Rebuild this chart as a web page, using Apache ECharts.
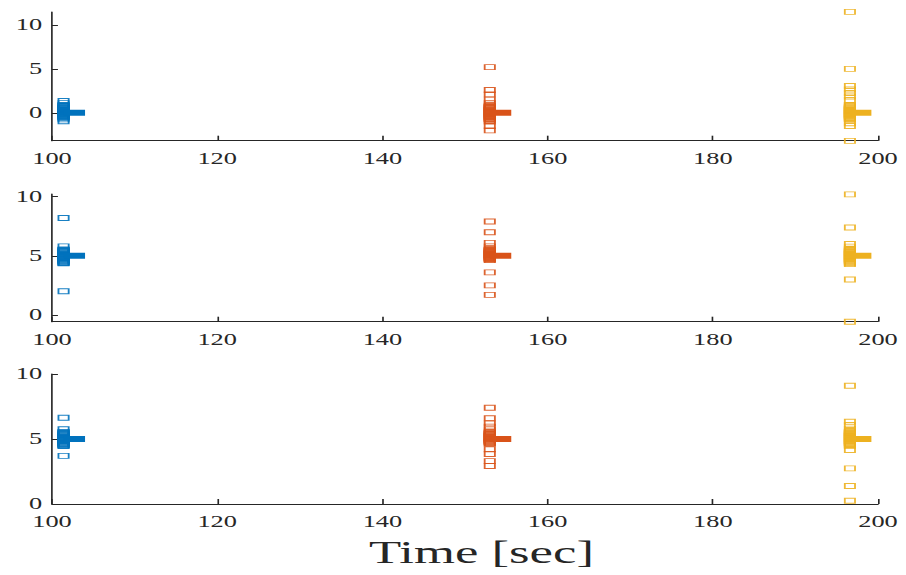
<!DOCTYPE html>
<html>
<head>
<meta charset="utf-8">
<script src="https://cdn.jsdelivr.net/npm/echarts@6/dist/echarts.min.js"></script>
<style>
  html, body { margin: 0; padding: 0; background: #fff; overflow: hidden; }
  #wrap { width: 906px; height: 575px; overflow: hidden; }
  /* the figure is drawn narrow and widened horizontally */
  #chart { width: 550px; height: 575px; transform: scaleX(1.64727); transform-origin: 0 0; }
</style>
</head>
<body>
<div id="wrap"><div id="chart"></div></div>
<script>
// time (sec) at which each run's samples were recorded
const groupX = [101.4, 153.0, 196.6];
const seriesColors = ['#0072BD', '#D95319', '#EDB120'];
const meanBarLength = 2.6;

// panel 1
const topBlue = [1.35, 1.1, 0.88, 0.8, 0.74, 0.68, 0.63, 0.56, 0.5, 0.45, 0.41, 0.35, 0.3, 0.26, 0.22, 0.17, 0.12, 0.08, 0.04, -0.01, -0.05, -0.1, -0.14, -0.19, -0.24, -0.28, -0.33, -0.39, -0.45, -0.51, -0.58, -0.75, -0.97];
const topOrange = [5.2, 2.6, 2.1, 1.5, 1.1, 0.85, 0.79, 0.72, 0.66, 0.6, 0.53, 0.47, 0.42, 0.36, 0.3, 0.24, 0.18, 0.13, 0.07, 0.02, -0.03, -0.08, -0.13, -0.19, -0.24, -0.3, -0.36, -0.42, -0.48, -0.55, -0.62, -0.7, -0.78, -0.86, -1.0, -1.5, -2.0];
const topYellow = [11.5, 5.0, 3.05, 2.65, 2.25, 1.85, 1.45, 0.9, 0.83, 0.76, 0.7, 0.63, 0.56, 0.5, 0.44, 0.38, 0.32, 0.27, 0.21, 0.15, 0.1, 0.05, -0.01, -0.06, -0.11, -0.17, -0.22, -0.28, -0.34, -0.4, -0.46, -0.52, -0.58, -0.65, -0.72, -0.8, -1.2, -1.5, -3.2];
const topMeans = [0, 0, 0];

// panel 2
const midBlue = [8.2, 5.8, 5.55, 5.5, 5.45, 5.41, 5.36, 5.31, 5.27, 5.22, 5.18, 5.14, 5.1, 5.06, 5.02, 4.98, 4.94, 4.9, 4.85, 4.81, 4.76, 4.71, 4.66, 4.61, 4.55, 4.5, 4.45, 4.4, 4.36, 2.0];
const midOrange = [7.9, 7.0, 6.1, 5.8, 5.6, 5.55, 5.5, 5.45, 5.41, 5.36, 5.32, 5.28, 5.24, 5.19, 5.15, 5.11, 5.07, 5.03, 4.99, 4.94, 4.9, 4.86, 4.82, 4.77, 4.73, 4.68, 4.64, 3.6, 2.5, 1.7];
const midYellow = [10.2, 7.4, 6.0, 5.78, 5.6, 5.55, 5.5, 5.45, 5.4, 5.35, 5.31, 5.26, 5.22, 5.17, 5.13, 5.08, 5.04, 4.99, 4.95, 4.9, 4.86, 4.81, 4.76, 4.71, 4.66, 4.6, 4.55, 4.5, 4.44, 4.37, 4.3, 3.0, -0.57];
const midMeans = [5, 5, 5];

// panel 3
const botBlue = [6.64, 5.75, 5.55, 5.5, 5.46, 5.41, 5.37, 5.32, 5.28, 5.24, 5.2, 5.16, 5.12, 5.08, 5.04, 5.0, 4.96, 4.92, 4.88, 4.84, 4.8, 4.75, 4.71, 4.66, 4.62, 4.57, 4.53, 4.49, 4.46, 3.7];
const botOrange = [7.4, 6.6, 6.2, 5.95, 5.74, 5.56, 5.51, 5.47, 5.42, 5.38, 5.34, 5.3, 5.26, 5.22, 5.17, 5.13, 5.09, 5.05, 5.01, 4.97, 4.93, 4.89, 4.84, 4.8, 4.76, 4.72, 4.67, 4.63, 4.2, 3.85, 3.3, 2.92];
const botYellow = [9.1, 6.33, 6.08, 5.8, 5.62, 5.57, 5.53, 5.48, 5.44, 5.4, 5.36, 5.31, 5.27, 5.22, 5.18, 5.14, 5.1, 5.06, 5.02, 4.97, 4.93, 4.88, 4.84, 4.8, 4.75, 4.71, 4.66, 4.62, 4.57, 4.51, 4.45, 4.15, 2.74, 1.38, 0.25];
const botMeans = [5, 5, 5];

// axis ranges and ticks
const xRange = [100, 200];
const xStep = 20;
const yRanges = [[-3.18, 11.48], [-0.57, 10.23], [0, 10]];
const yTicks = [0, 5, 10];
const xTitle = 'Time [sec]';

const panels = [
  { groups: [topBlue, topOrange, topYellow], means: topMeans },
  { groups: [midBlue, midOrange, midYellow], means: midMeans },
  { groups: [botBlue, botOrange, botYellow], means: botMeans }
];

const FONT = 'Liberation Serif';
const INK = '#262626';
const gridBoxes = [
  { top: 12, height: 128.7 },
  { top: 194, height: 127.7 },
  { top: 374, height: 130 }
];

const grid = gridBoxes.map(b => ({ left: 31.57, right: 17, top: b.top, height: b.height }));

const xAxis = gridBoxes.map((b, i) => ({
  type: 'value', gridIndex: i, min: xRange[0], max: xRange[1], interval: xStep,
  axisLine: { onZero: false, lineStyle: { color: INK, width: 1 } },
  axisTick: { inside: true, length: 5, lineStyle: { color: INK } },
  axisLabel: { margin: 10, fontFamily: FONT, fontSize: 16, color: INK },
  splitLine: { show: false },
  name: i === 2 ? xTitle : '',
  nameLocation: 'middle',
  nameGap: 32,
  nameTextStyle: { fontFamily: FONT, fontSize: 32, color: INK, padding: [0, 0, 0, 20] }
}));

const yAxis = yRanges.map((r, i) => ({
  type: 'value', gridIndex: i, min: r[0], max: r[1],
  axisLine: { show: true, onZero: false, lineStyle: { color: INK, width: 1 } },
  axisTick: { show: true, inside: true, length: 3.6, customValues: yTicks, lineStyle: { color: INK } },
  axisLabel: { margin: 6, fontFamily: FONT, fontSize: 16, color: INK, customValues: yTicks },
  splitLine: { show: false }
}));

const series = [];
panels.forEach((p, pi) => {
  p.groups.forEach((vals, gi) => {
    series.push({
      type: 'scatter', xAxisIndex: pi, yAxisIndex: pi,
      symbol: 'rect', symbolSize: [6.2, 5],
      clip: false,
      itemStyle: { color: 'rgba(255,255,255,0)', borderColor: seriesColors[gi], borderWidth: 1, opacity: 0.9 },
      data: vals.map(v => [groupX[gi], v]),
      z: 2
    });
    series.push({
      type: 'line', xAxisIndex: pi, yAxisIndex: pi,
      symbol: 'none',
      lineStyle: { color: seriesColors[gi], width: 6 },
      data: [[groupX[gi], p.means[gi]], [groupX[gi] + meanBarLength, p.means[gi]]],
      z: 3
    });
  });
});

const chart = echarts.init(document.getElementById('chart'), null, { renderer: 'svg' });
chart.setOption({
  animation: false,
  backgroundColor: '#fff',
  grid, xAxis, yAxis, series
});
</script>
</body>
</html>
